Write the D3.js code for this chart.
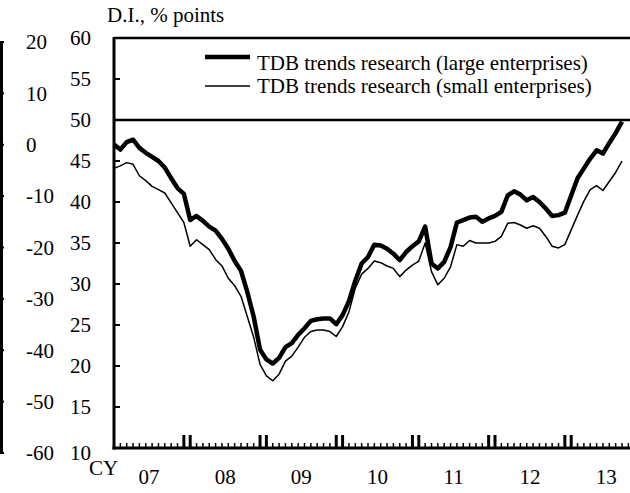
<!DOCTYPE html>
<html>
<head>
<meta charset="utf-8">
<script src="https://cdn.jsdelivr.net/npm/d3@7"></script>
<style>
  body { margin: 0; background: #fff; }
  svg { display: block; font-family: "Liberation Serif", "Times New Roman", serif; }
</style>
</head>
<body>
<div id="chart"></div>
<script>

// monthly D.I. readings, Jan 2007 onwards
var large = [
  47.0, 46.4, 47.3, 47.6, 46.6, 46.0, 45.5, 45.0, 44.2, 42.9, 41.7, 41.0,
  37.8, 38.3, 37.7, 37.0, 36.5, 35.5, 34.3, 32.8, 31.6, 29.0, 26.0, 22.0,
  20.8, 20.3, 21.0, 22.3, 22.8, 23.8, 24.6, 25.5, 25.7, 25.8, 25.8, 25.1,
  26.2, 27.9, 30.4, 32.5, 33.3, 34.8, 34.7, 34.3, 33.7, 32.9, 33.9, 34.6,
  35.2, 37.0, 32.5, 31.9, 32.7, 34.5, 37.5, 37.8, 38.1, 38.2, 37.6, 38.0,
  38.3, 38.8, 40.8, 41.3, 40.9, 40.2, 40.6, 40.0, 39.2, 38.3, 38.4, 38.7,
  40.8, 42.9, 44.1, 45.3, 46.3, 45.9, 47.2, 48.4, 49.8
];
var small = [
  44.1, 44.4, 44.8, 44.6, 43.2, 42.6, 41.9, 41.5, 41.1, 39.9, 38.7, 37.5,
  34.6, 35.4, 34.8, 34.2, 33.0, 32.2, 30.7, 29.8, 28.5, 26.0, 23.5, 20.2,
  18.8, 18.2, 19.0, 20.6, 21.2, 22.3, 23.5, 24.2, 24.4, 24.4, 24.2, 23.6,
  24.8, 26.6, 29.5, 31.2, 31.9, 32.8, 32.6, 32.2, 31.9, 30.9, 31.7, 32.3,
  32.8, 35.0, 31.5, 29.9, 30.7, 32.1, 34.8, 34.6, 35.3, 35.0, 35.0, 35.0,
  35.2, 35.8, 37.4, 37.5, 37.2, 36.8, 37.1, 36.8, 35.8, 34.6, 34.4, 34.8,
  36.6, 38.4, 40.1, 41.5, 42.0, 41.4, 42.5, 43.6, 45.0
];
var years = [2007, 2008, 2009, 2010, 2011, 2012, 2013];
var yearLabels = ['07', '08', '09', '10', '11', '12', '13'];
var yTicks = [10, 15, 20, 25, 30, 35, 40, 45, 50, 55, 60];
var leftTicks = [20, 10, 0, -10, -20, -30, -40, -50, -60];
var seriesNames = ['TDB trends research (large enterprises)', 'TDB trends research (small enterprises)'];

var width = 630, height = 493;
var fmt = d3.timeFormat('%Y-%m');

// one category per month, the axis runs on past the last reading
var months = d3.timeMonth.range(new Date(2007, 0, 1), new Date(2014, 0, 1)).map(fmt);

var x = d3.scalePoint().domain(months).range([114, 114 + 83 * 6.35]);
var y = d3.scaleLinear().domain([10, 60]).range([448, 38]);
var yLeft = d3.scaleLinear().domain([-60, 20]).range([453, 42]);

var svg = d3.select('#chart').append('svg')
  .attr('width', width)
  .attr('height', height);

svg.append('rect').attr('width', width).attr('height', height).attr('fill', '#fff');

//left over edge of the neighbouring panel
svg.append('line')
  .attr('x1', 1.5).attr('x2', 1.5)
  .attr('y1', yLeft(20)).attr('y2', yLeft(-60))
  .attr('stroke', '#000').attr('stroke-width', 3);

svg.selectAll('line.ltick').data(leftTicks).enter().append('line')
  .attr('class', 'ltick')
  .attr('x1', 0).attr('x2', 4)
  .attr('y1', function (d) { return yLeft(d); })
  .attr('y2', function (d) { return yLeft(d); })
  .attr('stroke', '#000').attr('stroke-width', 2);

svg.selectAll('text.ltick').data(leftTicks).enter().append('text')
  .attr('class', 'ltick')
  .attr('x', 26)
  .attr('y', function (d) { return yLeft(d); })
  .attr('dy', '0.35em')
  .attr('font-size', 21)
  .text(function (d) { return d; });

//title
svg.append('text')
  .attr('x', 107).attr('y', 22)
  .attr('font-size', 21)
  .text('D.I., % points');

//y axis tick labels
svg.selectAll('text.ytick').data(yTicks).enter().append('text')
  .attr('class', 'ytick')
  .attr('x', 91)
  .attr('y', function (d) { return y(d); })
  .attr('dy', function (d) { return d === 10 ? '0.55em' : '0.35em'; })
  .attr('text-anchor', 'end')
  .attr('font-size', 21)
  .text(function (d) { return d; });

//inner ticks on the y axis
svg.selectAll('line.ytick').data(yTicks.filter(function (d) { return d !== 10 && d !== 60 && d !== 50; }))
  .enter().append('line')
  .attr('class', 'ytick')
  .attr('x1', 114).attr('x2', 120)
  .attr('y1', function (d) { return y(d); })
  .attr('y2', function (d) { return y(d); })
  .attr('stroke', '#000').attr('stroke-width', 2);

//frame: top, 50 line, left and bottom
svg.append('line')
  .attr('x1', 114).attr('x2', width)
  .attr('y1', y(60)).attr('y2', y(60))
  .attr('stroke', '#000').attr('stroke-width', 2.5);

svg.append('line')
  .attr('x1', 114).attr('x2', width)
  .attr('y1', y(50)).attr('y2', y(50))
  .attr('stroke', '#000').attr('stroke-width', 2.5);

//month ticks
svg.selectAll('line.mtick').data(months).enter().append('line')
  .attr('class', 'mtick')
  .attr('x1', function (d) { return x(d); })
  .attr('x2', function (d) { return x(d); })
  .attr('y1', 448).attr('y2', 443)
  .attr('stroke', '#000').attr('stroke-width', 1.5);

//taller ticks either side of each new year
var yearEdges = [];
years.slice(1).forEach(function (yr) {
  yearEdges.push(fmt(new Date(yr - 1, 11, 1)));
  yearEdges.push(fmt(new Date(yr, 0, 1)));
});

svg.selectAll('line.ytick2').data(yearEdges).enter().append('line')
  .attr('class', 'ytick2')
  .attr('x1', function (d) { return x(d); })
  .attr('x2', function (d) { return x(d); })
  .attr('y1', 448).attr('y2', 435)
  .attr('stroke', '#000').attr('stroke-width', 3);

svg.append('line')
  .attr('x1', 114).attr('x2', 114)
  .attr('y1', y(60) - 1).attr('y2', 449.5)
  .attr('stroke', '#000').attr('stroke-width', 3);

svg.append('line')
  .attr('x1', 112.5).attr('x2', width)
  .attr('y1', 448).attr('y2', 448)
  .attr('stroke', '#000').attr('stroke-width', 3);

//year labels sit in the middle of each year
svg.selectAll('text.year').data(years).enter().append('text')
  .attr('class', 'year')
  .attr('x', function (d) {
    return (x(fmt(new Date(d, 5, 1))) + x(fmt(new Date(d, 6, 1)))) / 2;
  })
  .attr('y', 484)
  .attr('text-anchor', 'middle')
  .attr('font-size', 21)
  .text(function (d, i) { return yearLabels[i]; });

svg.append('text')
  .attr('x', 89).attr('y', 475)
  .attr('font-size', 21)
  .text('CY');

//the two series
var line = d3.line()
  .x(function (d, i) { return x(months[i]); })
  .y(function (d) { return y(d); });

svg.append('path')
  .datum(small)
  .attr('d', line)
  .attr('fill', 'none')
  .attr('stroke', '#000')
  .attr('stroke-width', 1.5)
  .attr('stroke-linejoin', 'round');

svg.append('path')
  .datum(large)
  .attr('d', line)
  .attr('fill', 'none')
  .attr('stroke', '#000')
  .attr('stroke-width', 4.5)
  .attr('stroke-linejoin', 'round');

//legend
var legend = svg.append('g');
[{ w: 4.5, ly: 57, ty: 70 }, { w: 1.5, ly: 86, ty: 93 }].forEach(function (o, i) {
  legend.append('line')
    .attr('x1', 205).attr('x2', 250)
    .attr('y1', o.ly).attr('y2', o.ly)
    .attr('stroke', '#000').attr('stroke-width', o.w);
  legend.append('text')
    .attr('x', 257).attr('y', o.ty)
    .attr('font-size', 21)
    .text(seriesNames[i]);
});

</script>
</body>
</html>
